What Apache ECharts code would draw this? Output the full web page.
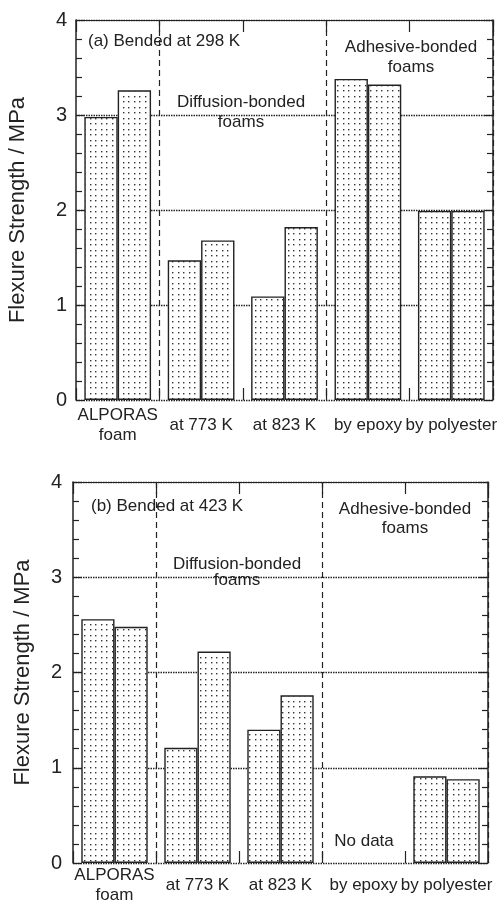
<!DOCTYPE html>
<html>
<head>
<meta charset="utf-8">
<script src="https://cdn.jsdelivr.net/npm/echarts@6/dist/echarts.min.js"></script>
<style>
  html, body { margin: 0; padding: 0; background: #fff; }
  #chart { width: 502px; height: 902px; }
</style>
</head>
<body>
<div id="chart"></div>
<script>
// Specimen groups along the x axis
const categories = ['ALPORAS\nfoam', 'at 773 K', 'at 823 K', 'by epoxy', 'by polyester'];

// Flexure strength (MPa), two specimens per group
// (a) bended at 298 K
const a298First  = [2.98, 1.47, 1.09, 3.38, 1.99];
const a298Second = [3.26, 1.68, 1.82, 3.32, 1.99];
// (b) bended at 423 K (epoxy-bonded: no data)
const b423First  = [2.56, 1.21, 1.40, null, 0.91];
const b423Second = [2.48, 2.22, 1.76, null, 0.88];

const yTicks = [0, 1, 2, 3, 4];

// Stippled fill used for every bar
function makeStipple() {
  const c = document.createElement('canvas');
  c.width = 11; c.height = 11;
  const g = c.getContext('2d');
  g.fillStyle = '#fff';
  g.fillRect(0, 0, 11, 11);
  g.fillStyle = '#333';
  [[2, 2], [7, 2], [2, 8], [7, 8]].forEach(p => g.fillRect(p[0], p[1], 1.4, 1.4));
  return c;
}
const stipple = { image: makeStipple(), repeat: 'repeat' };

const ink = '#222';
const fontFamily = 'Liberation Sans, Arial, sans-serif';
const dotted = { color: ink, type: [1.5, 1], width: 1.4 };

// Dashed separators sit on the boundaries before groups 2 and 4
const separatorAt = (idx) => idx === 1 || idx === 3;

function panelAxes(gridIndex, nameGap, labelMargin, xMargin) {
  const xAxes = [
    {
      type: 'category', gridIndex, data: categories, position: 'bottom',
      boundaryGap: true,
      axisLine: { show: false, onZero: false },
      axisTick: { show: true, inside: true, length: 12, lineStyle: { color: ink, width: 1.2 } },
      axisLabel: {
        color: ink, fontSize: 17, fontFamily, margin: xMargin,
        verticalAlign: 'middle', lineHeight: 20, interval: 0
      },
      splitLine: {
        show: true, interval: (idx) => separatorAt(idx),
        lineStyle: { color: ink, type: [6, 4], width: 1.2 }
      }
    },
    {
      // top frame: ticks on the group boundaries, labels kept invisible
      type: 'category', gridIndex, data: categories, position: 'top',
      boundaryGap: true,
      axisLine: { show: true, onZero: false, lineStyle: { color: ink, width: 1 } },
      axisTick: { show: true, inside: true, length: 12, interval: 0, lineStyle: { color: ink, width: 1.2 } },
      axisLabel: { show: true, color: 'rgba(255,255,255,0)' },
      splitLine: { show: false }
    }
  ];
  const yAxes = [
    {
      type: 'value', gridIndex, min: 0, max: 4, interval: 1, position: 'left',
      name: 'Flexure Strength / MPa', nameLocation: 'middle', nameGap,
      nameRotate: 90,
      nameTextStyle: { color: ink, fontSize: 22, fontFamily },
      axisLine: { show: true, onZero: false, lineStyle: { color: ink, width: 1.5 } },
      axisTick: { show: true, inside: true, length: 9, lineStyle: { color: ink, width: 1.2 } },
      minorTick: { show: true, splitNumber: 5, length: 6, lineStyle: { color: ink, width: 1.2 } },
      axisLabel: {
        color: ink, fontSize: 20, fontFamily, margin: labelMargin,
        formatter: (v) => yTicks.includes(v) ? String(v) : ''
      },
      splitLine: { show: true, lineStyle: dotted }
    },
    {
      type: 'value', gridIndex, min: 0, max: 4, interval: 1, position: 'right',
      axisLine: { show: true, onZero: false, lineStyle: { color: ink, width: 1.5 } },
      axisTick: { show: true, inside: true, length: 9, lineStyle: { color: ink, width: 1.2 } },
      minorTick: { show: true, splitNumber: 5, length: 6, lineStyle: { color: ink, width: 1.2 } },
      axisLabel: { show: false },
      splitLine: { show: false }
    }
  ];
  return { xAxes, yAxes };
}

const panelA = panelAxes(0, 47, 9, 25);
const panelB = panelAxes(1, 39, 11, 22);

function barSeries(data, xAxisIndex, yAxisIndex) {
  return {
    type: 'bar', data, xAxisIndex, yAxisIndex,
    barGap: '0%', barCategoryGap: '20%',
    itemStyle: { color: stipple, borderColor: ink, borderWidth: 1.4 },
    emphasis: { disabled: true },
    silent: true
  };
}

const textStyle = (extra) => Object.assign({
  fill: ink, fontSize: 17, fontFamily, align: 'center', verticalAlign: 'middle'
}, extra);

const option = {
  backgroundColor: '#fff',
  animation: false,
  grid: [
    { left: 76, top: 20, right: 9, height: 380, outerBoundsMode: 'none' },
    { left: 73, top: 482, right: 14, height: 381, outerBoundsMode: 'none' }
  ],
  xAxis: panelA.xAxes.concat(panelB.xAxes),
  yAxis: panelA.yAxes.concat(panelB.yAxes),
  series: [
    barSeries(a298First, 0, 0),
    barSeries(a298Second, 0, 0),
    barSeries(b423First, 2, 2),
    barSeries(b423Second, 2, 2)
  ],
  graphic: [
    { type: 'text', left: 88, top: 33, style: textStyle({ text: '(a) Bended at 298 K', align: 'left', verticalAlign: 'top' }) },
    { type: 'text', x: 241, y: 112, style: textStyle({ text: 'Diffusion-bonded\nfoams', lineHeight: 20 }) },
    { type: 'text', x: 411, y: 57, style: textStyle({ text: 'Adhesive-bonded\nfoams', lineHeight: 20 }) },
    { type: 'text', left: 91, top: 498, style: textStyle({ text: '(b) Bended at 423 K', align: 'left', verticalAlign: 'top' }) },
    { type: 'text', x: 237, y: 572, style: textStyle({ text: 'Diffusion-bonded\nfoams', lineHeight: 16 }) },
    { type: 'text', x: 405, y: 519, style: textStyle({ text: 'Adhesive-bonded\nfoams', lineHeight: 19 }) },
    { type: 'text', x: 364, y: 841, style: textStyle({ text: 'No data' }) }
  ]
};

const chart = echarts.init(document.getElementById('chart'), null, { renderer: 'canvas' });
chart.setOption(option);
</script>
</body>
</html>
